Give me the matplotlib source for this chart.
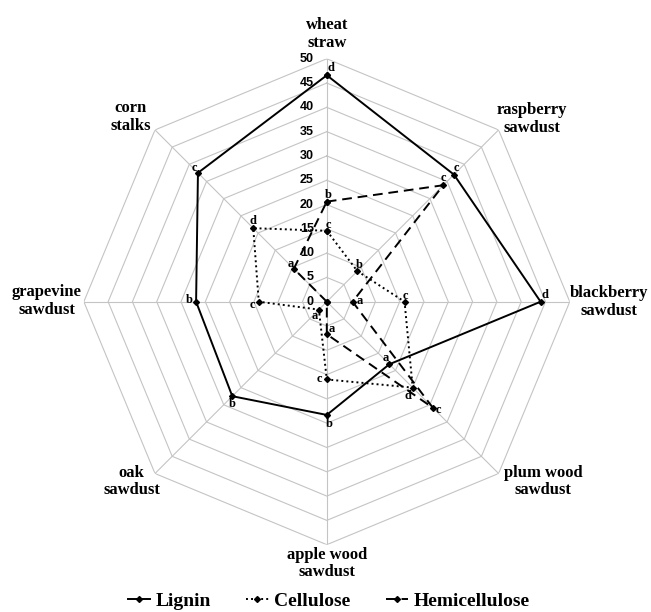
import numpy as np
import matplotlib.pyplot as plt
from matplotlib.lines import Line2D


categories = [
    "wheat\nstraw",
    "raspberry\nsawdust",
    "blackberry\nsawdust",
    "plum wood\nsawdust",
    "apple wood\nsawdust",
    "oak\nsawdust",
    "grapevine\nsawdust",
    "corn\nstalks",
]

lignin = [46.6, 37.0, 44.0, 18.2, 23.3, 27.5, 26.9, 37.5]
cellulose = [14.6, 8.9, 16.0, 25.0, 16.0, 2.3, 14.0, 21.4]
hemicellulose = [20.6, 33.9, 5.3, 30.9, 6.7, 0.0, 0.0, 9.6]

lignin_letters = ["d", "c", "d", "a", "b", "b", "b", "c"]
cellulose_letters = ["c", "b", "c", "d", "c", "a", "c", "d"]
hemicellulose_letters = ["b", "c", "a", "c", "a", "", "", "a"]

r_ticks = [0, 5, 10, 15, 20, 25, 30, 35, 40, 45, 50]

# letter offsets (pixels) next to each point
lignin_off = [(4, 7), (2, 7), (4, 7), (-4, 6), (2, -9), (0, -8), (-7, 2), (-4, 5)]
cellulose_off = [(2, 6), (2, 6), (1, 6), (-5, -8), (-7, 0), (-4, -6), (-6, -3), (0, 7)]
hemicellulose_off = [(1, 7), (0, 7), (7, 1), (5, -2), (5, 5), (0, 0), (0, 0), (-3, 5)]

SERIF = "Liberation Serif"
SANS = "Liberation Sans"
GRID = "#c4c4c4"

n = len(categories)
angles = np.arange(n) * 2 * np.pi / n
closed = np.append(angles, angles[0])

fig = plt.figure(figsize=(6.51, 6.12), dpi=100)
ax = fig.add_axes([0.127, 0.11, 0.75, 0.794], projection="polar")
ax.set_theta_zero_location("N")
ax.set_theta_direction(-1)
ax.set_ylim(0, 50)
ax.grid(False)
ax.set_xticks([])
ax.set_yticks([])
ax.spines["polar"].set_visible(False)

# octagon grid and spokes
for r in r_ticks[1:]:
    ax.plot(closed, [r] * (n + 1), color=GRID, lw=0.8, zorder=1)
for a in angles:
    ax.plot([a, a], [0, 50], color=GRID, lw=0.8, zorder=1)

for v in r_ticks:
    ax.annotate(str(v), xy=(0, v), xytext=(-13, 0), textcoords="offset pixels",
                ha="right", va="center", fontsize=9, fontweight="bold",
                family=SANS, zorder=5)

series = [
    (lignin, lignin_letters, lignin_off, "-", "Lignin"),
    (cellulose, cellulose_letters, cellulose_off, (0, (1, 1.6)), "Cellulose"),
    (hemicellulose, hemicellulose_letters, hemicellulose_off, (0, (5, 3)), "Hemicellulose"),
]

handles = []
for vals, letters, offs, ls, name in series:
    v = np.append(vals, vals[0])
    ax.plot(closed, v, color="black", lw=1.4, linestyle=ls,
            marker="D", markersize=3, zorder=3, clip_on=False)
    for a, val, let, (dx, dy) in zip(angles, vals, letters, offs):
        if let:
            ax.annotate(let, xy=(a, val), xytext=(dx, dy), textcoords="offset pixels",
                        ha="center", va="center", fontsize=9, fontweight="bold",
                        family=SERIF, zorder=4)
    handles.append(Line2D([], [], color="black", lw=1.4, linestyle=ls,
                          marker="D", markersize=3, label=name))

# category labels: (offset x, offset y, ha, va)
label_pos = [
    (0, 8, "center", "bottom"),
    (-2, -6, "left", "bottom"),
    (0, 0, "left", "center"),
    (5, -8, "left", "center"),
    (0, -2, "center", "top"),
    (5, -8, "right", "center"),
    (-2, 1, "right", "center"),
    (-4, -4, "right", "bottom"),
]
for a, name, (dx, dy, ha, va) in zip(angles, categories, label_pos):
    ax.annotate(name, xy=(a, 50), xytext=(dx, dy), textcoords="offset pixels",
                ha=ha, va=va, multialignment="center", fontsize=12,
                fontweight="bold", family=SERIF, linespacing=1.15,
                annotation_clip=False)

fig.legend(handles=handles, loc="center", bbox_to_anchor=(0.505, 0.018), ncol=3,
           frameon=False, handlelength=1.15, handletextpad=0.3, columnspacing=1.8,
           prop={"family": SERIF, "weight": "bold", "size": 14})

fig.savefig("out.png", dpi=100)
